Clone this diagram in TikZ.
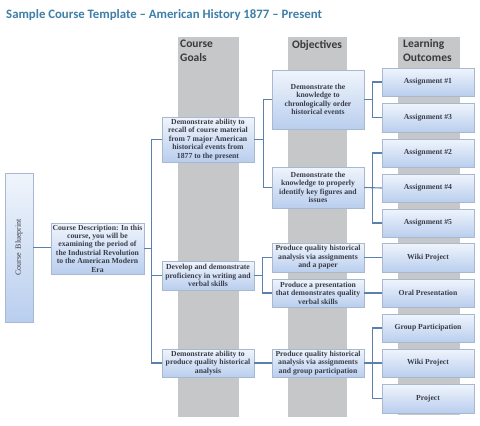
\documentclass[tikz,border=0pt]{standalone}
\usepackage{fontspec}
\setmainfont{Liberation Serif}
\newfontfamily\hdfont{Carlito}
\usetikzlibrary{shadows}
\definecolor{colgray}{HTML}{C6C7C9}
\definecolor{conncol}{HTML}{5A80AE}
\definecolor{boxtop}{HTML}{F0F5FC}
\definecolor{boxbot}{HTML}{B9CEEE}
\definecolor{boxline}{HTML}{A8B8D0}
\definecolor{txtcol}{HTML}{3A3D48}
\definecolor{titlec}{HTML}{3E7FA8}
\definecolor{hdcol}{HTML}{3A3A3A}
\newcommand\mybox[6]{%
  \node[bluebox, minimum width={(#4-#2)*1pt}, minimum height={(#5-#3)*1pt}]
    (#1) at ({(#2+#4)/2},{(#3+#5)/2}) {#6};}
\begin{document}
\begin{tikzpicture}[x=1pt,y=-1pt,
  bluebox/.style={draw=boxline, line width=0.5pt, top color=boxtop, bottom color=boxbot,
     inner sep=0pt, align=center, text=txtcol, font=\fontsize{7.7}{8.4}\selectfont\bfseries,
     drop shadow={shadow xshift=0.8pt, shadow yshift=-1.3pt, opacity=0.35}},
  cn/.style={draw=conncol, line width=1.1pt},
  colbar/.style={fill=colgray, draw=none},
  hd/.style={font=\hdfont\fontsize{11.5}{14}\selectfont\bfseries, text=hdcol, inner sep=0pt}]
\useasboundingbox (0,0) rectangle (480,426);
\fill[white] (0,0) rectangle (480,426);
% title
\node[anchor=west, inner sep=0pt, text=titlec, font=\hdfont\fontsize{12.8}{15}\selectfont\bfseries] (title) at (6,15.5)
  {Sample Course Template – American History 1877 – Present};
% columns
\path[colbar] (178,37) rectangle (239,417);
\path[colbar] (288,37) rectangle (347,417);
\path[colbar] (398,37) rectangle (460,415);
% headers
\node[hd, anchor=north west, align=left] (h1) at (180,40) {Course\\Goals};
\node[hd, anchor=north] (h2) at (317,40) {Objectives};
\node[hd, anchor=north west, align=left] (h3) at (403,39) {Learning\\Outcomes};
% boxes
\node[bluebox, minimum width=28pt, minimum height=149pt] (bp) at (19,247.5) {};
\node[rotate=90, text=txtcol, font=\fontsize{8}{8.4}\selectfont, inner sep=0pt] (bpt) at (bp.center) {Course\ \ Blueprint};
\mybox{desc}{51}{223}{144}{274}{Course Description: In this\\course, you will be\\examining the period of\\the Industrial Revolution\\to the American Modern\\Era}
\mybox{g1}{162}{117}{254}{162}{Demonstrate ability to\\recall of course material\\from 7 major American\\historical events from\\1877 to the present}
\mybox{g2}{162}{261}{254}{290}{Develop and demonstrate\\proficiency in writing and\\verbal skills}
\mybox{g3}{162}{349}{254}{377}{Demonstrate ability to\\produce quality historical\\analysis}
\mybox{o1}{272}{70}{364}{129}{Demonstrate the\\knowledge to\\chronlogically order\\historical events}
\mybox{o2}{272}{167}{364}{208}{Demonstrate the\\knowledge to properly\\identify key figures and\\issues}
\mybox{o3}{272}{243}{364}{272}{Produce quality historical\\analysis via assignments\\and a paper}
\mybox{o4}{272}{279}{364}{307}{Produce a presentation\\that demonstrates quality\\verbal skills}
\mybox{o5}{272}{349}{364}{377}{Produce quality historical\\analysis via assignments\\and group participation}
\mybox{a1}{382}{68}{474}{96}{Assignment \#1}
\mybox{a3}{382}{103}{474}{132}{Assignment \#3}
\mybox{a2}{382}{139}{474}{167}{Assignment \#2}
\mybox{a4}{382}{174}{474}{202}{Assignment \#4}
\mybox{a5}{382}{209}{474}{237}{Assignment \#5}
\mybox{w1}{382}{243}{474}{272}{Wiki Project}
\mybox{op}{382}{279}{474}{307}{Oral Presentation}
\mybox{gp}{382}{314}{474}{342}{Group Participation}
\mybox{w2}{382}{349}{474}{377}{Wiki Project}
\mybox{pj}{382}{384}{474}{413}{Project}
% connectors
\draw[cn] (bp.east) -- (bp.east -| desc.west);
\path (g1.west) ++(-10,0) coordinate (j1);
\draw[cn] (desc.east) -- (desc.east -| j1);
\draw[cn] (g1.west) -- (j1) |- (g3.west);
\draw[cn] (g2.west) -- (g2.west -| j1);
\path (o1.west) ++(-8,0) coordinate (j2);
\draw[cn] (o1.west) -- (j2) |- (o2.west);
\draw[cn] (g1.east) -- (g1.east -| j2);
\path (a1.west) ++(-9,0) coordinate (j3);
\draw[cn] (a1.west) -- (j3) |- (a3.west);
\draw[cn] (o1.east) -- (o1.east -| j3);
\path (a2.west) ++(-9,0) coordinate (j4);
\draw[cn] (a2.west) -- (j4) |- (a5.west);
\draw[cn] (o2.east) -- (a4.west);
\path (o3.west) ++(-9,0) coordinate (j5);
\draw[cn] (o3.west) -- (j5) |- (o4.west);
\draw[cn] (g2.east) -- (g2.east -| j5);
\draw[cn] (o3.east) -- (w1.west);
\draw[cn] (o4.east) -- (op.west);
\draw[cn] (g3.east) -- (o5.west);
\path (gp.west) ++(-9,0) coordinate (j6);
\draw[cn] (gp.west) -- (j6) |- (pj.west);
\draw[cn] (o5.east) -- (w2.west);
\end{tikzpicture}
\end{document}
